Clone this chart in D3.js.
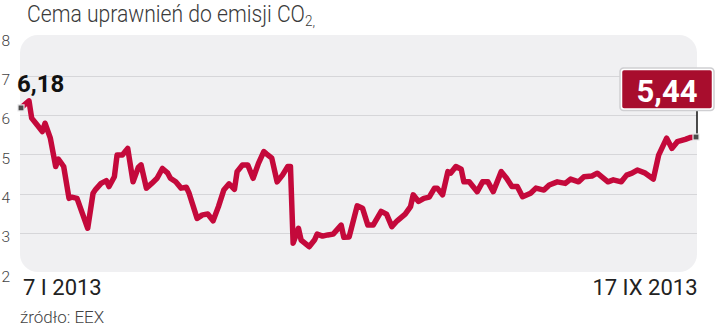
<!DOCTYPE html>
<html><head><meta charset="utf-8">
<script src="https://cdn.jsdelivr.net/npm/d3@7/dist/d3.min.js"></script>
<style>
html,body{margin:0;padding:0;background:#fff;}
svg{display:block;}
</style></head>
<body>
<svg id="chart" width="720" height="327"></svg>
<script>
// ---- data ----
const dates = ["2013-01-07","2013-01-10","2013-01-11","2013-01-13","2013-01-15","2013-01-16","2013-01-18","2013-01-20","2013-01-21","2013-01-23",
"2013-01-25","2013-01-26","2013-01-28","2013-01-30","2013-02-01","2013-02-03","2013-02-04","2013-02-06","2013-02-08","2013-02-09",
"2013-02-11","2013-02-12","2013-02-14","2013-02-16","2013-02-18","2013-02-20","2013-02-21","2013-02-23","2013-02-25","2013-02-27",
"2013-03-01","2013-03-03","2013-03-04","2013-03-06","2013-03-08","2013-03-10","2013-03-11","2013-03-14","2013-03-16","2013-03-18",
"2013-03-20","2013-03-22","2013-03-24","2013-03-26","2013-03-28","2013-03-29","2013-03-31","2013-04-02","2013-04-04","2013-04-06",
"2013-04-08","2013-04-09","2013-04-11","2013-04-13","2013-04-15","2013-04-17","2013-04-18","2013-04-19","2013-04-21","2013-04-22",
"2013-04-25","2013-04-27","2013-04-28","2013-04-30","2013-05-02","2013-05-04","2013-05-07","2013-05-08","2013-05-10","2013-05-13",
"2013-05-15","2013-05-17","2013-05-19","2013-05-22","2013-05-24","2013-05-26","2013-05-28","2013-05-31","2013-06-02","2013-06-03",
"2013-06-05","2013-06-07","2013-06-09","2013-06-11","2013-06-12","2013-06-14","2013-06-16","2013-06-17","2013-06-19","2013-06-21",
"2013-06-22","2013-06-24","2013-06-27","2013-06-29","2013-07-01","2013-07-03","2013-07-06","2013-07-08","2013-07-10","2013-07-12",
"2013-07-14","2013-07-17","2013-07-19","2013-07-22","2013-07-24","2013-07-27","2013-07-30","2013-08-01","2013-08-04","2013-08-06",
"2013-08-09","2013-08-11","2013-08-15","2013-08-17","2013-08-20","2013-08-22","2013-08-24","2013-08-26","2013-08-29","2013-09-01",
"2013-09-03","2013-09-06","2013-09-08","2013-09-10","2013-09-13","2013-09-15","2013-09-17"];
const prices = [6.18,6.36,5.92,5.75,5.58,5.79,5.41,4.69,4.88,4.69,
3.88,3.91,3.88,3.50,3.12,4.01,4.11,4.26,4.33,4.18,
4.43,4.98,4.98,5.15,4.30,4.67,4.73,4.14,4.26,4.39,
4.64,4.52,4.39,4.30,4.14,4.16,4.01,3.37,3.46,3.48,
3.31,3.67,4.09,4.25,4.11,4.56,4.73,4.73,4.39,4.77,
5.07,5.01,4.90,4.30,4.47,4.69,4.69,2.74,3.12,2.82,
2.65,2.82,2.97,2.92,2.95,2.97,3.20,2.89,2.90,3.69,
3.63,3.20,3.20,3.55,3.48,3.16,3.31,3.48,3.67,3.97,
3.80,3.88,3.91,4.14,4.14,3.97,4.56,4.52,4.69,4.62,
4.30,4.30,4.05,4.30,4.30,4.05,4.56,4.39,4.18,4.18,
3.92,4.01,4.14,4.09,4.22,4.30,4.26,4.37,4.30,4.43,
4.45,4.52,4.30,4.35,4.30,4.47,4.52,4.60,4.52,4.37,
4.98,5.41,5.15,5.32,5.38,5.43,5.44];
const yTicks = [2,3,4,5,6,7,8];
const gridValues = [3,4,5,6,7];
const title = "Cema uprawnień do emisji CO";
const startLabel = "7 I 2013";
const endLabel = "17 IX 2013";
const firstValueLabel = "6,18";
const lastValueLabel = "5,44";
const sourceLabel = "źródło: EEX";

// ---- drawing ----
const svg = d3.select("#chart");
const parse = d3.utcParse("%Y-%m-%d");
const data = dates.map((d,i)=>({date:parse(d), v:prices[i]}));

const panel = {x0:20, x1:697, y0:35, y1:272};
const x = d3.scaleUtc().domain(d3.extent(data, d=>d.date)).range([21, 696]);
const y = d3.scaleLinear().domain([2,8]).range([272.3, 36.3]);

// title
const t = svg.append("text")
  .attr("x", 0).attr("y", 0)
  .attr("transform", "translate(27,22) scale(0.9,1)")
  .attr("font-family", "Roboto").attr("font-weight", 300)
  .attr("font-size", 23.5).attr("fill", "#3a3a3a");
t.append("tspan").text(title);
t.append("tspan").attr("font-size", 15).attr("dy", 4).text("2");
t.append("tspan").attr("font-size", 15).text(",");

// panel
svg.append("rect")
  .attr("x", panel.x0).attr("y", panel.y0)
  .attr("width", panel.x1 - panel.x0).attr("height", panel.y1 - panel.y0)
  .attr("rx", 18).attr("ry", 18)
  .attr("fill", "#f0f0f2");

// grid
svg.append("g").selectAll("line").data(gridValues).join("line")
  .attr("x1", panel.x0).attr("x2", panel.x1)
  .attr("y1", d=>Math.round(y(d))+0.5).attr("y2", d=>Math.round(y(d))+0.5)
  .attr("stroke", "#d6d6d9").attr("stroke-width", 1);

// y tick labels
svg.append("g").selectAll("text").data(yTicks).join("text")
  .attr("x", 1.5).attr("y", d=>y(d)+9.5)
  .attr("font-family", "Roboto").attr("font-weight", 300)
  .attr("font-size", 15.5).attr("fill", "#444")
  .text(d=>d);

// line
const line = d3.line().x(d=>x(d.date)).y(d=>y(d.v));
svg.append("path").datum(data)
  .attr("d", line)
  .attr("fill", "none").attr("stroke", "#c4093b")
  .attr("stroke-width", 5.5).attr("stroke-linejoin", "round").attr("stroke-linecap", "round");

// markers
const first = data[0], last = data[data.length-1];
function marker(d){
  svg.append("rect")
    .attr("x", x(d.date)-3).attr("y", y(d.v)-3)
    .attr("width", 6).attr("height", 6)
    .attr("fill", "#4a4a4a").attr("stroke", "#e8e8ea").attr("stroke-width", 1.2);
}
marker(first);

// first value label
svg.append("text")
  .attr("x", 17).attr("y", 91.5)
  .attr("font-family", "Roboto").attr("font-weight", 700)
  .attr("font-size", 24).attr("fill", "#111")
  .text(firstValueLabel);

// last value callout
const lx = x(last.date), ly = y(last.v);
svg.append("line")
  .attr("x1", lx+1).attr("x2", lx+1).attr("y1", ly-3).attr("y2", 109)
  .attr("stroke", "#111").attr("stroke-width", 1.5);
svg.append("rect")
  .attr("x", 620.5).attr("y", 68.5).attr("width", 93).attr("height", 41.5)
  .attr("rx", 3).attr("fill", "none").attr("stroke", "#cfcfd2").attr("stroke-width", 2.5);
svg.append("rect")
  .attr("x", 621.5).attr("y", 69.5).attr("width", 91).attr("height", 39.5)
  .attr("rx", 2.5).attr("fill", "#a80d2d").attr("stroke", "#fff").attr("stroke-width", 1.5);
svg.append("text")
  .attr("x", 667).attr("y", 101.8).attr("text-anchor", "middle")
  .attr("font-family", "Roboto").attr("font-weight", 700)
  .attr("font-size", 31).attr("fill", "#fff")
  .text(lastValueLabel);
marker(last);

// x labels
svg.append("text")
  .attr("x", 23).attr("y", 294.5)
  .attr("font-family", "Roboto").attr("font-weight", 400)
  .attr("font-size", 22).attr("fill", "#222")
  .text(startLabel);
svg.append("text")
  .attr("x", 697.5).attr("y", 294.5).attr("text-anchor", "end")
  .attr("font-family", "Roboto").attr("font-weight", 400)
  .attr("font-size", 22).attr("fill", "#222")
  .text(endLabel);

// source
svg.append("text")
  .attr("x", 20).attr("y", 322.5)
  .attr("font-family", "Roboto").attr("font-weight", 300)
  .attr("font-size", 17).attr("fill", "#444")
  .text(sourceLabel);
</script>
</body></html>
